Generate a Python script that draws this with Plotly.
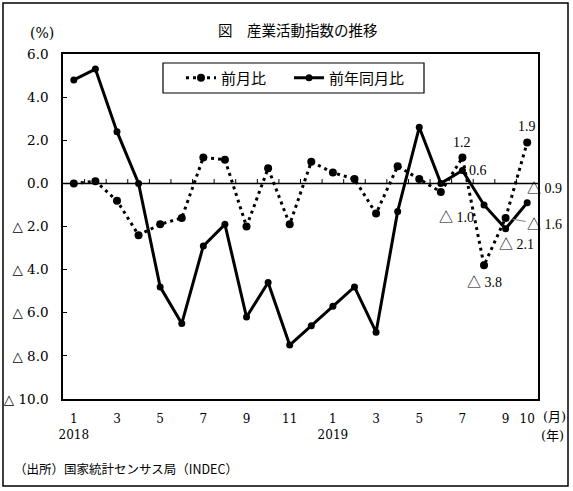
import plotly.graph_objects as go

# データ (2018年1月〜2019年10月)
months = ["2018-01", "2018-02", "2018-03", "2018-04", "2018-05", "2018-06",
          "2018-07", "2018-08", "2018-09", "2018-10", "2018-11", "2018-12",
          "2019-01", "2019-02", "2019-03", "2019-04", "2019-05", "2019-06",
          "2019-07", "2019-08", "2019-09", "2019-10"]
mom = [0.0, 0.1, -0.8, -2.4, -1.9, -1.6, 1.2, 1.1, -2.0, 0.7, -1.9, 1.0,
       0.5, 0.2, -1.4, 0.8, 0.2, -0.4, 1.2, -3.8, -1.6, 1.9]
yoy = [4.8, 5.3, 2.4, 0.0, -4.8, -6.5, -2.9, -1.9, -6.2, -4.6, -7.5, -6.6,
       -5.7, -4.8, -6.9, -1.3, 2.6, 0.0, 0.6, -1.0, -2.1, -0.9]

ytick_vals = [6, 4, 2, 0, -2, -4, -6, -8, -10]
ytick_text = ["6.0", "4.0", "2.0", "0.0", "△ 2.0", "△ 4.0", "△ 6.0", "△ 8.0", "△ 10.0"]
xtick_idx = [0, 2, 4, 6, 8, 10, 12, 14, 16, 18, 20, 21]
xtick_text = ["1<br>2018", "3", "5", "7", "9", "11", "1<br>2019", "3", "5", "7", "9", "10"]

W, H = 573, 491
L, R, T, B = 63, 538, 54, 399

def px_x(p):
    return (p - L) / (R - L)

def px_y(p):
    return (B - p) / (B - T)

NUM = "DejaVu Serif, Noto Sans CJK JP"
LBL = "Liberation Serif, Noto Sans CJK JP"
JP = "Noto Sans CJK JP"

xs = list(range(len(months)))

fig = go.Figure()
fig.add_trace(go.Scatter(
    x=xs, y=mom, mode="lines+markers", name="前月比", legend="legend",
    line=dict(color="black", width=3, dash="3px,4px"),
    marker=dict(size=8, color="black"),
))
fig.add_trace(go.Scatter(
    x=xs, y=yoy, mode="lines+markers", name="前年同月比", legend="legend2",
    line=dict(color="black", width=3),
    marker=dict(size=7, color="black"),
))

shapes = []
# 0の線と目盛り
shapes.append(dict(type="line", xref="paper", yref="y", x0=0, x1=1, y0=0, y1=0,
                   line=dict(color="black", width=1.5)))
for i in range(len(months) - 1):
    shapes.append(dict(type="line", xref="x", yref="y", x0=i + 0.5, x1=i + 0.5,
                       y0=0, y1=0.2, line=dict(color="black", width=1)))
# 凡例の枠
shapes.append(dict(type="rect", xref="paper", yref="paper",
                   x0=px_x(163), x1=px_x(424), y0=px_y(93), y1=px_y(63),
                   line=dict(color="black", width=1.2)))
# 外枠
shapes.append(dict(type="rect", xref="paper", yref="paper",
                   x0=px_x(3), x1=px_x(568), y0=px_y(486), y1=px_y(3),
                   line=dict(color="black", width=1.5)))

def note(text, x, y, family, size, xanchor="center"):
    return dict(text=text, x=px_x(x), y=px_y(y), xref="paper", yref="paper",
                xanchor=xanchor, yanchor="middle", showarrow=False,
                font=dict(family=family, size=size, color="black"))

annotations = [
    note("図　産業活動指数の推移", 298, 30, JP, 14.5),
    note("(%)", 42, 33, NUM, 14),
    note("(月)", 554, 416, NUM, 13),
    note("(年)", 552, 435, NUM, 13),
    note("（出所）国家統計センサス局（INDEC）", 12, 468, JP, 12.5, xanchor="left"),
]

# データラベル
labels = [
    (18, mom[18], "1.2", 0, 15),
    (18, yoy[18], "0.6", 16, 0),
    (19, yoy[19], "△ 1.0", -28, -13),
    (19, mom[19], "△ 3.8", 0, -17),
    (20, yoy[20], "△ 2.1", 11, -16),
    (21, yoy[21], "△ 0.9", 17, 14),
    (21, mom[21], "1.9", 0, 16),
]
for xi, yv, txt, dx, dy in labels:
    annotations.append(dict(x=xi, y=yv, text=txt, showarrow=False, xshift=dx, yshift=dy,
                            xanchor="center", yanchor="middle",
                            font=dict(family=LBL, size=14, color="black")))
annotations.append(dict(x=20, y=mom[20], text="△ 1.6", showarrow=True, arrowhead=0,
                        arrowwidth=1, arrowcolor="gray", ax=39, ay=7, standoff=7,
                        font=dict(family=LBL, size=14, color="black")))

legend_style = dict(orientation="h", yanchor="middle", xanchor="left", borderwidth=0,
                    bgcolor="rgba(0,0,0,0)", font=dict(family=JP, size=15, color="black"))

fig.update_layout(
    width=W, height=H,
    margin=dict(l=L, r=W - R, t=T, b=H - B, pad=0, autoexpand=False),
    paper_bgcolor="white", plot_bgcolor="white",
    showlegend=True,
    legend=dict(x=px_x(181), y=px_y(78), **legend_style),
    legend2=dict(x=px_x(289), y=px_y(78), **legend_style),
    xaxis=dict(range=[-0.5, len(months) - 0.5], tickvals=[xs[i] for i in xtick_idx],
               ticktext=xtick_text, showgrid=False, zeroline=False, showline=True,
               mirror=True, linecolor="black", linewidth=1.5, ticks="", automargin=False,
               ticklabelstandoff=8, tickfont=dict(family=NUM, size=12, color="black")),
    yaxis=dict(range=[-10, 6], tickvals=ytick_vals, ticktext=ytick_text, showgrid=False,
               zeroline=False, showline=True, mirror=True, linecolor="black", linewidth=1.5,
               ticks="inside", ticklen=4, tickcolor="black", ticklabelstandoff=10,
               automargin=False, tickfont=dict(family=NUM, size=13.5, color="black")),
    shapes=shapes,
    annotations=annotations,
)

# ページの余白をなくす
fig.write_html("out.html", config={"displayModeBar": False},
               post_script="document.body.style.margin='0';")
